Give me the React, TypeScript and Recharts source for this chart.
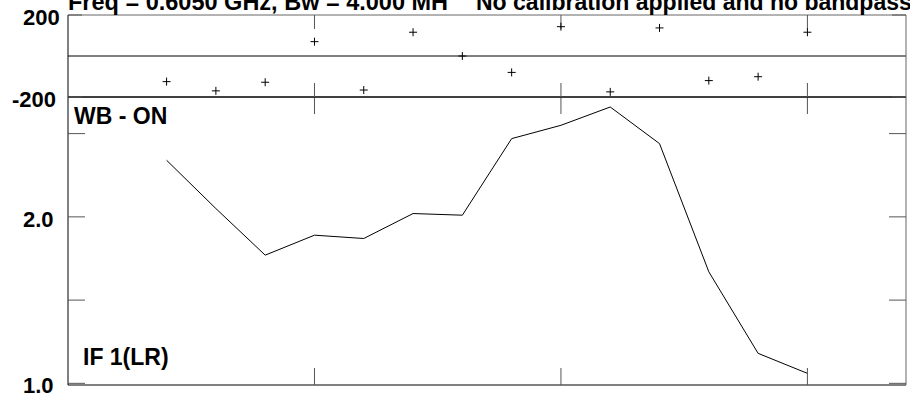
import React from 'react';
import { ComposedChart, LineChart, Line, Scatter, XAxis, YAxis, ReferenceLine } from 'recharts';

// channel numbers along the x axis
const channels = [1, 2, 3, 4, 5, 6, 7, 8, 9, 10, 11, 12, 13, 14];
// phase (deg), top panel
const phase = [-125, -170, -128, 70, -166, 116, 0, -80, 143, -175, 137, -120, -101, 116];
// amplitude, bottom panel
const amplitude = [2.34, 2.05, 1.77, 1.89, 1.87, 2.02, 2.01, 2.47, 2.55, 2.66, 2.44, 1.67, 1.18, 1.06];

const xTicks = [4, 9, 14];
const phaseTicks = [-200, 200];
const ampTicks = [1.0, 1.5, 2.0, 2.5];
const ampLabelled = [1.0, 2.0];

const titleMain = 'Freq = 0.6050 GHz, Bw = 4.000 MH';
const titleNote = 'No calibration applied and no bandpass';
const stokesLabel = 'WB - ON';
const ifLabel = 'IF 1(LR)';

const FONT = '"Liberation Sans", Arial, Helvetica, sans-serif';
const W = 910;
const H = 405;

const rows = channels.map((c, i) => ({ channel: c, phase: phase[i], amp: amplitude[i] }));

const labelStyle = { fontFamily: FONT, fontWeight: 700, fontSize: 22, fill: '#000' };

// draws nothing, but keeps the tick lines (tick={false} drops them too)
const NoLabel = () => <g />;

const PhaseTick = (props: any) => {
  const { y, payload } = props;
  const v = payload.value;
  return (
    <text x={v < 0 ? 12 : 23} y={y + 10} textAnchor="start" style={labelStyle}>
      {String(v)}
    </text>
  );
};

const AmpTick = (props: any) => {
  const { y, payload } = props;
  const v = payload.value;
  if (!ampLabelled.includes(v)) return <g />;
  return (
    <text x={23} y={y + 10} textAnchor="start" style={labelStyle}>
      {v.toFixed(1)}
    </text>
  );
};

const Cross = (props: any) => {
  const { cx, cy } = props;
  if (cx == null || cy == null) return <g />;
  return <path d={`M${cx - 4},${cy}h8M${cx},${cy - 4}v8`} stroke="#000" strokeWidth={1} fill="none" />;
};

const abs: React.CSSProperties = { position: 'absolute', left: 0, top: 0 };

export default function App() {
  return (
    <div style={{ position: 'absolute', left: 0, top: 0, width: W, height: H, background: '#fff' }}>
      <div style={abs}>
        <LineChart width={W} height={H} data={rows} margin={{ top: 0, right: 0, bottom: 0, left: 0 }}>
          <XAxis xAxisId="top" orientation="top" type="number" dataKey="channel" domain={[-1, 16]}
            ticks={xTicks} tick={NoLabel} tickSize={-17} height={97} allowDataOverflow
            axisLine={{ stroke: '#000' }} tickLine={{ stroke: '#555' }} />
          <XAxis type="number" dataKey="channel" domain={[-1, 16]} ticks={xTicks} tick={NoLabel}
            tickSize={-17} height={20} allowDataOverflow
            axisLine={{ stroke: '#000' }} tickLine={{ stroke: '#555' }} />
          <YAxis type="number" domain={[0.99, 2.72]} ticks={ampTicks} tick={AmpTick} tickSize={-17}
            width={68} allowDataOverflow axisLine={{ stroke: '#000' }} tickLine={{ stroke: '#555' }} />
          <YAxis yAxisId="right" orientation="right" type="number" domain={[0.99, 2.72]} ticks={ampTicks}
            tick={NoLabel} tickSize={-17} width={4} allowDataOverflow
            axisLine={{ stroke: '#666' }} tickLine={{ stroke: '#555' }} />
          <Line type="linear" dataKey="amp" stroke="#000" strokeWidth={1} dot={false}
            isAnimationActive={false} />
        </LineChart>
      </div>
      <div style={abs}>
        <ComposedChart width={W} height={H} data={rows} margin={{ top: 0, right: 0, bottom: 0, left: 0 }}>
          <XAxis xAxisId="top" orientation="top" type="number" dataKey="channel" domain={[-1, 16]}
            ticks={xTicks} tick={NoLabel} tickSize={-14} height={15} allowDataOverflow
            axisLine={{ stroke: '#666' }} tickLine={{ stroke: '#555' }} />
          <XAxis type="number" dataKey="channel" domain={[-1, 16]} ticks={xTicks} tick={NoLabel}
            tickSize={-14} height={H - 97} allowDataOverflow
            axisLine={{ stroke: '#000' }} tickLine={{ stroke: '#555' }} />
          <YAxis type="number" domain={[-200, 200]} ticks={phaseTicks} tick={PhaseTick} tickSize={-14}
            width={68} allowDataOverflow axisLine={{ stroke: '#000' }} tickLine={{ stroke: '#555' }} />
          <YAxis yAxisId="right" orientation="right" type="number" domain={[-200, 200]} ticks={phaseTicks}
            tick={NoLabel} tickSize={-14} width={4} allowDataOverflow
            axisLine={{ stroke: '#666' }} tickLine={{ stroke: '#555' }} />
          <ReferenceLine y={0} stroke="#000" strokeWidth={1} />
          <Scatter dataKey="phase" shape={Cross} isAnimationActive={false} />
        </ComposedChart>
      </div>
      <svg width={W} height={H} style={{ ...abs, pointerEvents: 'none' }}>
        <text x={68} y={10} style={{ ...labelStyle, fontSize: 23.5 }}>{titleMain}</text>
        <text x={476} y={10} style={{ ...labelStyle, fontSize: 23 }}>{titleNote}</text>
        <text x={74} y={124} style={{ ...labelStyle, fontSize: 23 }}>{stokesLabel}</text>
        <text x={83} y={365} style={{ ...labelStyle, fontSize: 23 }}>{ifLabel}</text>
      </svg>
    </div>
  );
}
